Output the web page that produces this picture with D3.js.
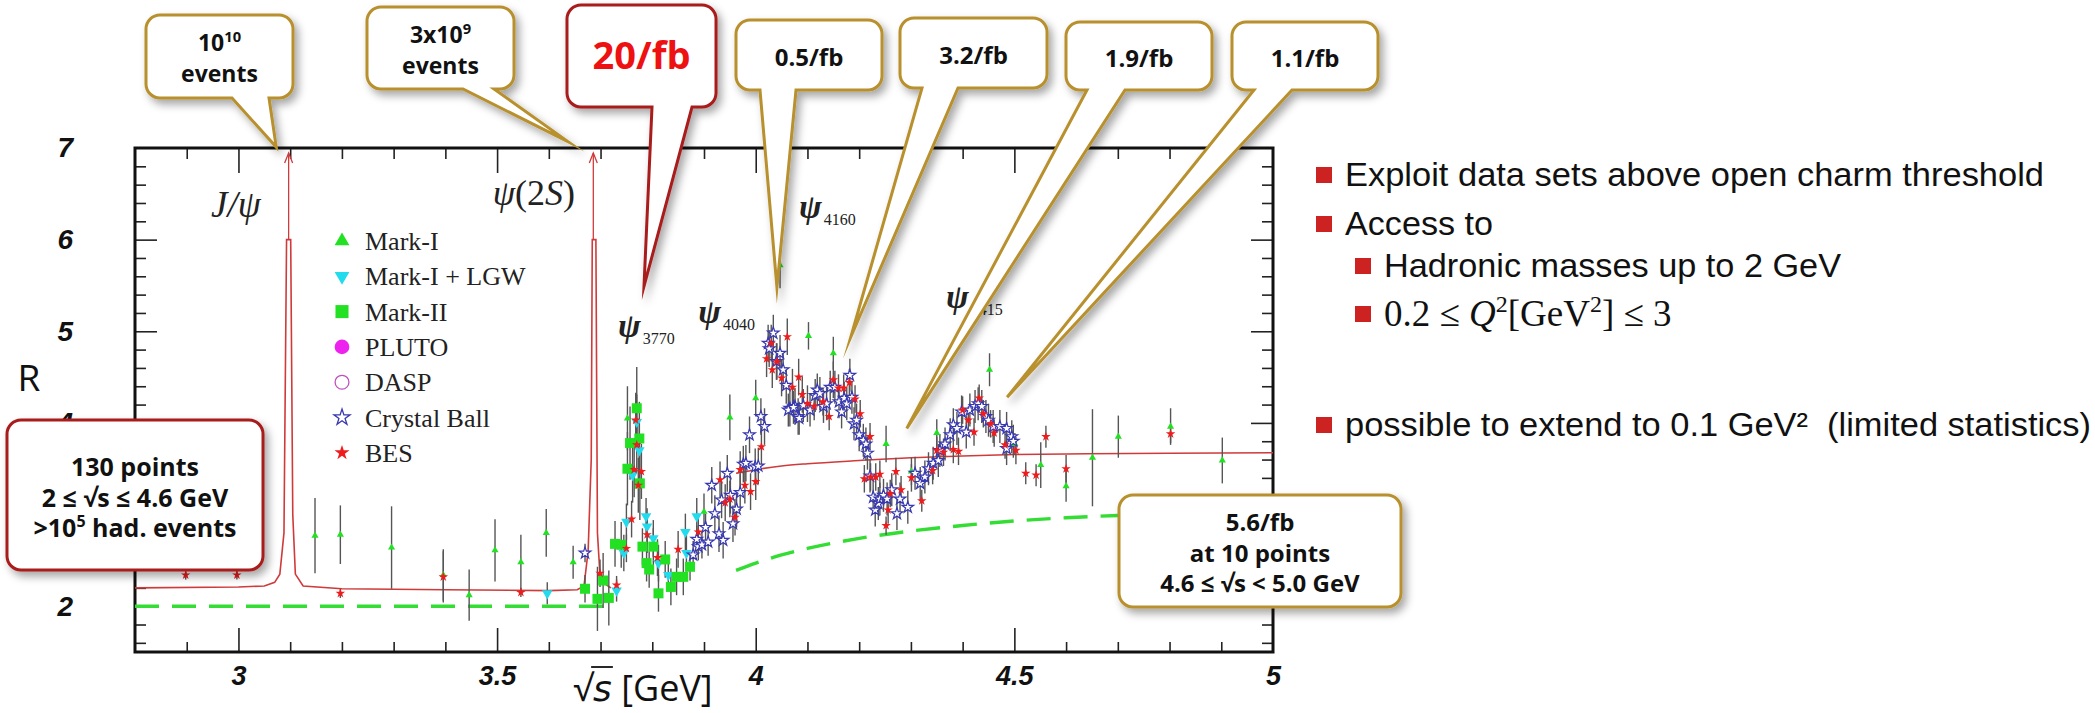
<!DOCTYPE html>
<html>
<head>
<meta charset="utf-8">
<script src="https://cdn.jsdelivr.net/npm/d3@7"></script>
<style>
  html, body { margin: 0; padding: 0; background: #fff; }
  svg { display: block; }
</style>
</head>
<body>
<svg id="chart" width="2095" height="713"></svg>
<script>
// ---------- axes ----------
const xDomain = [2.8, 5];
const yDomain = [1.5, 7];
const xTickLabels = [3, 3.5, 4, 4.5, 5];
// the label at R = 3 sits behind the "130 points" note, so it is left out
const yTickLabels = [2, 4, 5, 6, 7];

// ---------- measurements: [sqrt(s) GeV, R, error] ----------
const markI = [
  [3.148, 2.77, 0.41], [3.197, 2.78, 0.32], [3.296, 2.64, 0.45], [3.396, 2.34, 0.28],
  [3.446, 2.12, 0.28], [3.496, 2.61, 0.34], [3.546, 2.48, 0.30], [3.595, 2.80, 0.26],
  [3.647, 2.48, 0.18], [3.752, 4.05, 0.35], [3.900, 3.03, 0.20], [3.950, 4.06, 0.25],
  [4.000, 4.27, 0.20], [4.047, 5.72, 0.25], [4.102, 4.95, 0.15], [4.150, 4.76, 0.18],
  [4.252, 3.77, 0.20], [4.301, 3.47, 0.15], [4.350, 3.89, 0.15], [4.452, 4.58, 0.18],
  [4.501, 3.77, 0.12], [4.551, 3.54, 0.25], [4.600, 3.31, 0.17], [4.651, 3.62, 0.53],
  [4.701, 3.85, 0.23], [4.802, 3.96, 0.20], [4.902, 3.59, 0.25]
];
const markILGW = [
  [3.597, 2.14, 0.12], [3.731, 2.17, 0.12], [3.745, 2.58, 0.20], [3.750, 2.92, 0.20],
  [3.762, 3.43, 0.30], [3.770, 4.01, 0.30], [3.775, 3.70, 0.30], [3.788, 2.98, 0.20],
  [3.790, 2.87, 0.20], [3.802, 2.74, 0.20], [3.812, 2.47, 0.20], [3.831, 2.34, 0.15],
  [3.864, 2.81, 0.20], [3.866, 2.58, 0.20], [3.886, 2.98, 0.20]
];
const markII = [
  [3.670, 2.19, 0.15], [3.694, 2.08, 0.35], [3.705, 2.28, 0.30], [3.716, 2.09, 0.30],
  [3.728, 2.68, 0.25], [3.740, 2.67, 0.25], [3.752, 3.50, 0.40], [3.757, 3.78, 0.40],
  [3.770, 4.16, 0.45], [3.775, 3.83, 0.40], [3.776, 3.34, 0.40], [3.781, 2.65, 0.20],
  [3.789, 2.47, 0.20], [3.794, 2.40, 0.20], [3.802, 2.65, 0.20], [3.812, 2.14, 0.20],
  [3.825, 2.51, 0.20], [3.836, 2.21, 0.20], [3.847, 2.32, 0.20], [3.860, 2.32, 0.20],
  [3.873, 2.43, 0.15]
];
const pluto = [];
const dasp = [];
const crystalBall = [
  [3.670, 2.58, 0.10], [3.879, 2.56, 0.15], [3.889, 2.65, 0.15], [3.886, 2.73, 0.15],
  [3.896, 2.67, 0.15], [3.903, 2.86, 0.15], [3.908, 2.70, 0.15], [3.915, 3.32, 0.20],
  [3.921, 3.01, 0.20], [3.929, 2.79, 0.20], [3.934, 3.16, 0.20], [3.937, 2.72, 0.20],
  [3.945, 3.45, 0.20], [3.951, 3.21, 0.20], [3.956, 2.90, 0.20], [3.963, 3.06, 0.20],
  [3.970, 3.24, 0.20], [3.976, 3.55, 0.20], [3.981, 3.56, 0.20], [3.988, 3.87, 0.20],
  [3.999, 3.52, 0.20], [4.005, 3.53, 0.20], [4.010, 4.07, 0.20], [4.017, 3.96, 0.20],
  [4.024, 4.87, 0.20], [4.034, 4.98, 0.20], [4.026, 4.81, 0.20], [4.040, 4.67, 0.20],
  [4.047, 4.76, 0.20], [4.053, 4.58, 0.20], [4.059, 4.41, 0.20], [4.066, 4.16, 0.20],
  [4.076, 4.18, 0.20], [4.082, 4.07, 0.20], [4.063, 4.14, 0.18], [4.073, 4.17, 0.18],
  [4.084, 4.05, 0.18], [4.092, 4.19, 0.18], [4.105, 4.14, 0.18], [4.115, 4.30, 0.18],
  [4.119, 4.36, 0.18], [4.124, 4.32, 0.18], [4.131, 4.18, 0.18], [4.137, 4.21, 0.18],
  [4.144, 4.39, 0.18], [4.153, 4.39, 0.18], [4.161, 4.23, 0.18], [4.166, 4.12, 0.18],
  [4.171, 4.27, 0.18], [4.176, 4.21, 0.18], [4.182, 4.52, 0.18], [4.186, 4.28, 0.18],
  [4.190, 3.99, 0.18], [4.195, 4.03, 0.18], [4.200, 3.87, 0.18], [4.208, 3.81, 0.18],
  [4.213, 3.77, 0.18], [4.216, 3.67, 0.18], [4.221, 3.42, 0.18], [4.227, 3.19, 0.18],
  [4.231, 3.05, 0.18], [4.237, 3.12, 0.18], [4.240, 3.17, 0.18], [4.247, 3.21, 0.18],
  [4.254, 3.17, 0.18], [4.263, 3.27, 0.18], [4.273, 3.01, 0.18], [4.279, 3.17, 0.18],
  [4.294, 3.08, 0.18], [4.308, 3.45, 0.18], [4.318, 3.34, 0.18], [4.327, 3.41, 0.18],
  [4.334, 3.50, 0.18], [4.343, 3.56, 0.18], [4.353, 3.59, 0.18], [4.356, 3.70, 0.18],
  [4.366, 3.77, 0.18], [4.376, 3.87, 0.18], [4.382, 3.98, 0.18], [4.389, 3.94, 0.18],
  [4.398, 4.12, 0.18], [4.407, 3.90, 0.18], [4.414, 4.14, 0.18], [4.424, 4.18, 0.18],
  [4.430, 4.21, 0.18], [4.437, 4.18, 0.18], [4.445, 4.07, 0.18], [4.450, 4.03, 0.18],
  [4.459, 3.96, 0.18], [4.472, 3.96, 0.18], [4.485, 3.94, 0.18], [4.495, 3.85, 0.18],
  [4.485, 3.72, 0.18], [4.498, 3.80, 0.18]
];
const bes = [
  [2.898, 2.34, 0.05], [2.997, 2.34, 0.05], [3.197, 2.14, 0.05], [3.396, 2.32, 0.28],
  [3.546, 2.15, 0.05], [3.699, 2.36, 0.15], [3.731, 2.23, 0.10], [3.768, 4.03, 0.30],
  [3.770, 3.76, 0.30], [3.765, 3.49, 0.30], [3.779, 3.47, 0.30], [3.773, 3.32, 0.30],
  [3.760, 2.95, 0.20], [3.750, 2.63, 0.15], [3.790, 2.78, 0.20], [3.810, 2.53, 0.20],
  [3.850, 2.62, 0.20], [3.889, 2.81, 0.20], [3.931, 3.38, 0.20], [3.941, 3.13, 0.20],
  [3.950, 3.17, 0.20], [3.960, 2.97, 0.20], [3.970, 3.49, 0.20], [3.979, 3.32, 0.20],
  [3.990, 3.25, 0.20], [4.000, 3.36, 0.20], [4.011, 3.74, 0.20], [4.021, 4.70, 0.20],
  [4.030, 4.87, 0.20], [4.032, 4.58, 0.20], [4.041, 4.67, 0.20], [4.050, 4.49, 0.20],
  [4.061, 4.94, 0.20], [4.071, 4.39, 0.20], [4.083, 4.50, 0.20], [4.090, 4.31, 0.20],
  [4.100, 4.21, 0.20], [4.113, 4.18, 0.15], [4.130, 4.23, 0.15], [4.142, 4.07, 0.15],
  [4.150, 4.47, 0.20], [4.160, 4.38, 0.15], [4.170, 4.38, 0.15], [4.181, 4.44, 0.15],
  [4.192, 4.26, 0.15], [4.202, 4.10, 0.15], [4.221, 3.85, 0.15], [4.210, 3.39, 0.15],
  [4.222, 3.41, 0.15], [4.232, 3.41, 0.15], [4.240, 3.44, 0.15], [4.256, 3.05, 0.15],
  [4.252, 2.88, 0.10], [4.260, 3.23, 0.15], [4.271, 3.47, 0.15], [4.281, 3.27, 0.15],
  [4.301, 3.40, 0.15], [4.321, 3.15, 0.12], [4.342, 3.48, 0.15], [4.350, 3.70, 0.15],
  [4.363, 3.68, 0.15], [4.382, 3.71, 0.15], [4.392, 3.69, 0.15], [4.400, 4.14, 0.15],
  [4.411, 4.03, 0.15], [4.422, 3.90, 0.15], [4.432, 4.27, 0.15], [4.440, 4.10, 0.15],
  [4.454, 3.99, 0.15], [4.461, 3.89, 0.15], [4.482, 3.76, 0.15], [4.503, 3.70, 0.15],
  [4.522, 3.45, 0.12], [4.542, 3.43, 0.12], [4.561, 3.85, 0.12], [4.600, 3.50, 0.15],
  [4.802, 3.88, 0.10]
];

// ---------- curves: [sqrt(s) GeV, R] ----------
const resonanceCurve = [
  [2.8, 2.2], [3.0, 2.21], [3.05, 2.22], [3.07, 2.26], [3.08, 2.35], [3.088, 2.8],
  [3.093, 6.0], [3.101, 6.0], [3.105, 3.0], [3.11, 2.35], [3.125, 2.22], [3.2, 2.19],
  [3.4, 2.18], [3.6, 2.17], [3.655, 2.18], [3.668, 2.22], [3.676, 2.6], [3.682, 3.6],
  [3.684, 6.0], [3.691, 6.0], [3.694, 2.8], [3.699, 2.33], [3.712, 2.23], [3.72, 2.2]
];
const continuumCurve = [
  [3.962, 3.45], [4.0, 3.49], [4.05, 3.53], [4.1, 3.555], [4.2, 3.59], [4.3, 3.62],
  [4.4, 3.64], [4.5, 3.655], [4.6, 3.66], [4.8, 3.67], [5.0, 3.675]
];
const pqcdLow = [[2.8, 2.0], [3.72, 2.0]];
const pqcdHigh = [
  [3.962, 2.39], [4.0, 2.47], [4.05, 2.56], [4.1, 2.63], [4.2, 2.74], [4.3, 2.82],
  [4.4, 2.88], [4.5, 2.93], [4.6, 2.965], [4.7, 2.99], [4.8, 3.01], [5.0, 3.04]
];
const offScalePeaks = [3.097, 3.686];

// ---------- labels ----------
const legendNames = ["Mark-I", "Mark-I + LGW", "Mark-II", "PLUTO", "DASP", "Crystal Ball", "BES"];
const psiStates = [
  { sub: "3770", at: [3.757, 5.05] },
  { sub: "4040", at: [3.912, 5.20] },
  { sub: "4160", at: [4.107, 6.34] },
  { sub: "4415", at: [4.391, 5.36] }
];
const bulletTexts = [
  "Exploit data sets above open charm threshold",
  "Access to",
  "Hadronic masses up to 2 GeV",
  "possible to extend to 0.1 GeV\u00B2\u00A0 (limited statistics)"
];
const calloutTexts = [
  [["10", "^10"], ["events"]],
  [["3x10", "^9"], ["events"]],
  [["20/fb"]],
  [["0.5/fb"]],
  [["3.2/fb"]],
  [["1.9/fb"]],
  [["1.1/fb"]],
  [["130 points"], ["2 \u2264 \u221As \u2264 4.6 GeV"], [">10", "^5", " had. events"]],
  [["5.6/fb"], ["at 10 points"], ["4.6 \u2264 \u221As < 5.0 GeV"]]
];
// pointer tips in (sqrt(s), R)
const calloutTips = [[3.073, 7.01], [3.637, 7.07], [3.784, 5.49], [4.041, 5.48],
                     [4.184, 4.94], [4.292, 3.94], [4.486, 4.28], null, null];

// ---------- drawing ----------
const GOLD = "#b8902e", DARKRED = "#a81c1c";
const svg = d3.select("#chart");
const x = d3.scaleLinear().domain(xDomain).range([135, 1273]);
const y = d3.scaleLinear().domain(yDomain).range([652, 148]);

const defs = svg.append("defs");
const shadow = defs.append("filter").attr("id", "shadow")
  .attr("x", "-20%").attr("y", "-20%").attr("width", "150%").attr("height", "160%");
shadow.append("feDropShadow").attr("dx", 4).attr("dy", 5).attr("stdDeviation", 4)
  .attr("flood-color", "#000").attr("flood-opacity", 0.35);

const plot = svg.append("g");

// tick marks on all four sides
const xMinor = d3.range(29, 50).map(i => i / 10).filter(v => Math.abs(v * 2 - Math.round(v * 2)) > 1e-6);
const yMinor = d3.range(16, 70, 2).map(i => i / 10).filter(v => Math.abs(v - Math.round(v)) > 1e-6);
const xMajor = [3, 3.5, 4, 4.5];
const yMajor = [2, 3, 4, 5, 6];
function ticks(gen, tr, vals, size) {
  plot.append("g").attr("transform", tr)
    .call(gen.tickValues(vals).tickSize(size).tickFormat(""))
    .call(g => g.select(".domain").remove())
    .call(g => g.selectAll("line").attr("stroke", "#222").attr("stroke-width", 1.6));
}
ticks(d3.axisBottom(x), `translate(0,${y(1.5)})`, xMinor, -10);
ticks(d3.axisBottom(x), `translate(0,${y(1.5)})`, xMajor, -24);
ticks(d3.axisTop(x), `translate(0,${y(7)})`, xMinor, -11);
ticks(d3.axisTop(x), `translate(0,${y(7)})`, xMajor, -25);
ticks(d3.axisLeft(y), `translate(${x(2.8)},0)`, yMinor, -11);
ticks(d3.axisLeft(y), `translate(${x(2.8)},0)`, yMajor, -22);
ticks(d3.axisRight(y), `translate(${x(5)},0)`, yMinor, -11);
ticks(d3.axisRight(y), `translate(${x(5)},0)`, yMajor, -22);

// tick labels
plot.append("g").attr("transform", `translate(0,${y(1.5)})`)
  .call(d3.axisBottom(x).tickValues(xTickLabels).tickSize(0).tickPadding(14).tickFormat(d => String(d)))
  .call(g => g.select(".domain").remove())
  .call(g => g.selectAll("text").attr("font-family", "Liberation Sans, Arial, sans-serif")
    .attr("font-weight", "bold").attr("font-style", "italic").attr("font-size", 27).attr("fill", "#111"));
plot.append("g").attr("transform", `translate(${x(2.8)},0)`)
  .call(d3.axisLeft(y).tickValues(yTickLabels).tickSize(0).tickPadding(62).tickFormat(d => String(d)))
  .call(g => g.select(".domain").remove())
  .call(g => g.selectAll("text").attr("font-family", "Liberation Sans, Arial, sans-serif")
    .attr("font-weight", "bold").attr("font-style", "italic").attr("font-size", 28).attr("fill", "#111"));

// frame
plot.append("rect").attr("x", x(2.8)).attr("y", y(7))
  .attr("width", x(5) - x(2.8)).attr("height", y(1.5) - y(7))
  .attr("fill", "none").attr("stroke", "#111").attr("stroke-width", 3);

// axis titles
svg.append("text").attr("x", 29).attr("y", 391).attr("text-anchor", "middle")
  .attr("font-family", "Open Sans, sans-serif").attr("font-size", 37).attr("fill", "#111").text("R");
const xt = svg.append("text").attr("x", 643).attr("y", 701).attr("text-anchor", "middle")
  .attr("font-family", "Open Sans, sans-serif").attr("font-size", 36).attr("fill", "#111");
xt.append("tspan").text("\u221A");
xt.append("tspan").attr("font-style", "italic").attr("font-family", "DejaVu Sans, sans-serif").text("s");
xt.append("tspan").text(" [GeV]");
{
  const node = xt.node();
  const r0 = node.getExtentOfChar(0);
  const s1 = node.getExtentOfChar(1);
  svg.append("line").attr("x1", r0.x + r0.width - 2).attr("x2", s1.x + s1.width + 1)
    .attr("y1", r0.y + 4).attr("y2", r0.y + 4).attr("stroke", "#111").attr("stroke-width", 1.8);
}

// pQCD dashed curves
const line = d3.line().x(d => x(d[0])).y(d => y(d[1]));
[pqcdLow, pqcdHigh].forEach(c => plot.append("path").attr("d", line.curve(d3.curveMonotoneX)(c))
  .attr("fill", "none").attr("stroke", "#33dd33").attr("stroke-width", 3.4).attr("stroke-dasharray", "24,13"));

// resonance + continuum curves
plot.append("path").attr("d", d3.line().x(d => x(d[0])).y(d => y(d[1]))(resonanceCurve))
  .attr("fill", "none").attr("stroke", "#d03a3a").attr("stroke-width", 1.6);
plot.append("path").attr("d", d3.line().x(d => x(d[0])).y(d => y(d[1])).curve(d3.curveMonotoneX)(continuumCurve))
  .attr("fill", "none").attr("stroke", "#d03a3a").attr("stroke-width", 1.5);
offScalePeaks.forEach(m => {
  const px = x(m), top = y(7) + 5;
  plot.append("line").attr("x1", px).attr("x2", px).attr("y1", y(6)).attr("y2", top)
    .attr("stroke", "#d03a3a").attr("stroke-width", 1.3);
  plot.append("path").attr("d", `M${px - 4},${top + 10}L${px},${top}L${px + 4},${top + 10}`)
    .attr("fill", "none").attr("stroke", "#d03a3a").attr("stroke-width", 1.3);
});

// error bars
const allSets = [markI, markILGW, markII, pluto, dasp, crystalBall, bes];
allSets.forEach(set => plot.append("g").selectAll("line").data(set).join("line")
  .attr("x1", d => x(d[0])).attr("x2", d => x(d[0]))
  .attr("y1", d => y(d[1] - d[2])).attr("y2", d => y(d[1] + d[2]))
  .attr("stroke", "#555").attr("stroke-width", 1.4));

// markers
const styles = [
  { type: d3.symbolTriangle, size: 22, fill: "#22e022", stroke: "none", rot: 0, lsize: 95 },
  { type: d3.symbolTriangle, size: 48, fill: "#22dcee", stroke: "none", rot: 180, lsize: 95 },
  { type: d3.symbolSquare, size: 100, fill: "#22e022", stroke: "none", rot: 0, lsize: 170 },
  { type: d3.symbolCircle, size: 60, fill: "#ee22ee", stroke: "none", rot: 0, lsize: 170 },
  { type: d3.symbolCircle, size: 60, fill: "none", stroke: "#c050c0", rot: 0, lsize: 150 },
  { type: d3.symbolStar, size: 42, fill: "#fff", stroke: "#3838b0", rot: 0, lsize: 80 },
  { type: d3.symbolStar, size: 28, fill: "#ee1c1c", stroke: "none", rot: 0, lsize: 70 }
];
styles.forEach((s, i) => {
  plot.append("g").selectAll("path").data(allSets[i]).join("path")
    .attr("d", d3.symbol(s.type, s.size))
    .attr("transform", d => `translate(${x(d[0])},${y(d[1])}) rotate(${s.rot})`)
    .attr("fill", s.fill).attr("stroke", s.stroke).attr("stroke-width", 1.2);
});

// legend
const legend = svg.append("g");
legendNames.forEach((name, i) => {
  const s = styles[i], ly = 241 + i * 35.3;
  legend.append("path").attr("d", d3.symbol(s.type, s.lsize))
    .attr("transform", `translate(342,${ly}) rotate(${s.rot})`)
    .attr("fill", s.fill).attr("stroke", s.stroke).attr("stroke-width", 1.3);
  legend.append("text").attr("x", 365).attr("y", ly + 9)
    .attr("font-family", "Liberation Serif, serif").attr("font-size", 26).attr("fill", "#222").text(name);
});

// resonance labels
const serif = "Liberation Serif, DejaVu Serif, serif";
svg.append("text").attr("x", x(2.995)).attr("y", y(6.38) + 12).attr("text-anchor", "middle")
  .attr("font-family", serif).attr("font-style", "italic").attr("font-size", 37).attr("fill", "#222").text("J/\u03C8");
{
  const t = svg.append("text").attr("x", x(3.571)).attr("y", y(6.51) + 12).attr("text-anchor", "middle")
    .attr("font-family", serif).attr("font-size", 36).attr("fill", "#222");
  t.append("tspan").attr("font-style", "italic").text("\u03C8");
  t.append("tspan").text("(2");
  t.append("tspan").attr("font-style", "italic").text("S");
  t.append("tspan").text(")");
}
psiStates.forEach(p => {
  const t = svg.append("text").attr("x", x(p.at[0]) - 12).attr("y", y(p.at[1]) + 10)
    .attr("font-family", serif).attr("fill", "#222");
  t.append("tspan").attr("font-style", "italic").attr("font-weight", "bold").attr("font-size", 34).text("\u03C8");
  t.append("tspan").attr("font-size", 16).attr("dy", 7).attr("dx", 2).text(p.sub);
});

// bullet list on the right
const sans = "Liberation Sans, Arial, sans-serif";
const bullets = [
  { x: 1316, y: 175, t: bulletTexts[0], w: 699 },
  { x: 1316, y: 224, t: bulletTexts[1], w: 148 },
  { x: 1355, y: 266, t: bulletTexts[2], w: 457 },
  { x: 1316, y: 425, t: bulletTexts[3], w: 746 }
];
bullets.forEach(b => {
  svg.append("rect").attr("x", b.x).attr("y", b.y - 8).attr("width", 16).attr("height", 16).attr("fill", "#cc2222");
  svg.append("text").attr("x", b.x + 29).attr("y", b.y + 11).attr("font-family", sans)
    .attr("font-size", 33).attr("fill", "#111").attr("textLength", b.w).attr("lengthAdjust", "spacingAndGlyphs").text(b.t);
});
{
  const by = 314;
  svg.append("rect").attr("x", 1355).attr("y", by - 8).attr("width", 16).attr("height", 16).attr("fill", "#cc2222");
  const t = svg.append("text").attr("x", 1384).attr("y", by + 12).attr("font-family", serif)
    .attr("font-size", 37).attr("fill", "#111");
  t.append("tspan").text("0.2 \u2264 ");
  t.append("tspan").attr("font-style", "italic").text("Q");
  t.append("tspan").attr("font-size", 24).attr("dy", -14).text("2");
  t.append("tspan").attr("dy", 14).text("[GeV");
  t.append("tspan").attr("font-size", 24).attr("dy", -14).text("2");
  t.append("tspan").attr("dy", 14).text("] \u2264 3");
}

// callouts
const calloutLayout = [
  { box: [146, 15, 293, 98], base: [232, 269], lines: [43, 74], fs: 23, color: GOLD },
  { box: [367, 7, 514, 89], base: [463, 494], lines: [35, 66], fs: 23, color: GOLD },
  { box: [567, 5, 716, 107], base: [652, 692], lines: [55], fs: 38, color: DARKRED, text: "#ee1111" },
  { box: [736, 20, 882, 90], base: [760, 796], lines: [57], fs: 24, color: GOLD },
  { box: [900, 18, 1047, 88], base: [922, 958], lines: [55], fs: 24, color: GOLD },
  { box: [1066, 22, 1212, 90], base: [1087, 1125], lines: [58], fs: 24, color: GOLD },
  { box: [1232, 22, 1378, 90], base: [1254, 1292], lines: [58], fs: 24, color: GOLD },
  { box: [7, 420, 263, 570], base: null, lines: [467, 498, 528], fs: 25, color: DARKRED },
  { box: [1119, 495, 1401, 607], base: null, lines: [522, 553, 583], fs: 24, color: GOLD }
];
function bubblePath(b, base, tip) {
  const [x0, y0, x1, y1] = b, r = 14;
  let p = `M${x0 + r},${y0}H${x1 - r}A${r},${r} 0 0 1 ${x1},${y0 + r}V${y1 - r}A${r},${r} 0 0 1 ${x1 - r},${y1}`;
  if (base && tip) p += `H${base[1]}L${tip[0]},${tip[1]}L${base[0]},${y1}`;
  p += `H${x0 + r}A${r},${r} 0 0 1 ${x0},${y1 - r}V${y0 + r}A${r},${r} 0 0 1 ${x0 + r},${y0}Z`;
  return p;
}
const callouts = svg.append("g");
calloutLayout.forEach((c, i) => {
  const tipData = calloutTips[i];
  const tip = tipData ? [x(tipData[0]), y(tipData[1])] : null;
  callouts.append("path").attr("d", bubblePath(c.box, c.base, tip))
    .attr("fill", "#fff").attr("stroke", c.color).attr("stroke-width", 3)
    .attr("stroke-linejoin", "miter").attr("stroke-miterlimit", 20).attr("filter", "url(#shadow)");
  const cx = (c.box[0] + c.box[2]) / 2;
  calloutTexts[i].forEach((segs, j) => {
    const t = callouts.append("text").attr("x", cx).attr("y", c.lines[j] + c.fs * 0.36)
      .attr("text-anchor", "middle").attr("font-family", "Open Sans, sans-serif").attr("font-weight", "bold")
      .attr("font-size", c.fs).attr("fill", c.text || "#111");
    let raised = false;
    segs.forEach(s => {
      const sup = s.startsWith("^");
      const sp = t.append("tspan").text(sup ? s.slice(1) : s);
      if (sup) { sp.attr("font-size", c.fs * 0.64).attr("dy", -c.fs * 0.42); raised = true; }
      else if (raised) { sp.attr("dy", c.fs * 0.42); raised = false; }
    });
  });
});
</script>
</body>
</html>
